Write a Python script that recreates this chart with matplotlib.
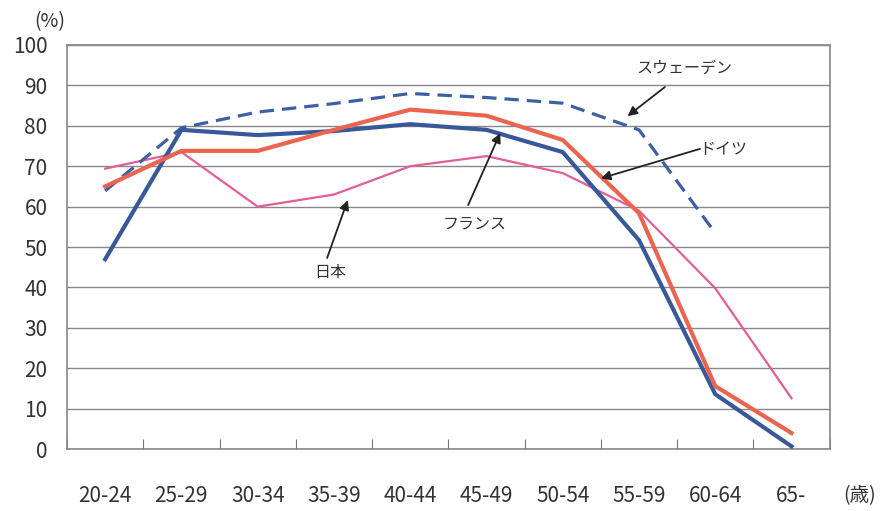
import matplotlib
matplotlib.use("Agg")
import matplotlib.pyplot as plt
import numpy as np

plt.rcParams['font.family'] = ['Noto Sans CJK JP', 'DejaVu Sans']
NUMFONT = ['Liberation Sans Narrow', 'Noto Sans CJK JP', 'DejaVu Sans']

categories = ["20-24", "25-29", "30-34", "35-39", "40-44", "45-49", "50-54", "55-59", "60-64", "65-"]
france = [47, 79, 77.7, 78.7, 80.4, 79, 73.5, 51.7, 13.6, 0.7]
germany = [65, 73.8, 73.8, 79, 84, 82.5, 76.5, 58.4, 15.6, 4]
sweden = [63.9, 79.5, 83.4, 85.5, 88, 87, 85.6, 79, 53.5]
japan = [69.4, 73.5, 60, 63, 70, 72.5, 68.3, 59, 39.8, 12.6]
yticks = [0, 10, 20, 30, 40, 50, 60, 70, 80, 90, 100]

fig = plt.figure(figsize=(8.94, 5.11), dpi=100)
ax = fig.add_axes([0.075, 0.121, 0.853, 0.791])

x = np.arange(len(categories))
ax.plot(x, japan, color='#e35d98', lw=1.6, zorder=3)
ax.plot(np.arange(len(sweden)), sweden, color='#3c5fa6', lw=2.3, ls=(0, (4.5, 2.5)), zorder=4)
ax.plot(x, france, color='#38589a', lw=3.0, zorder=5)
ax.plot(x, germany, color='#ea6450', lw=3.0, zorder=6)

ax.set_xlim(-0.5, len(categories) - 0.5)
ax.set_ylim(0, 100)
ax.set_yticks(yticks)
ax.set_yticklabels([str(v) for v in yticks], fontsize=15, color='#333333', family=NUMFONT)
ax.set_xticks(x)
ax.set_xticklabels(categories, fontsize=15, color='#333333', family=NUMFONT)
ax.tick_params(axis='x', length=0, pad=26)
ax.tick_params(axis='y', length=0, pad=14)
ax.set_xticks(np.arange(-0.5, len(categories) + 0.5, 1), minor=True)
ax.tick_params(axis='x', which='minor', direction='in', length=7, color='#777777', width=0.8)
ax.grid(axis='y', color='#888888', lw=1.0, zorder=1)
for s in ax.spines.values():
    s.set_color('#888888')
    s.set_linewidth(1.2)

fig.text(0.056, 0.957, "(%)", fontsize=14, ha='center', va='center', color='#333333')
fig.text(0.962, 0.03, "(歳)", fontsize=14, ha='center', va='center', color='#333333')

arrowprops = dict(arrowstyle='-|>', color='#222222', lw=1.3, mutation_scale=14, shrinkA=0, shrinkB=0)
ax.text(7.6, 94.3, "スウェーデン", fontsize=11.5, ha='center', va='center', color='#333333')
ax.annotate("", xy=(6.85, 82.4), xytext=(7.34, 89.6), arrowprops=arrowprops, zorder=7)
ax.text(8.1, 74.2, "ドイツ", fontsize=11.5, ha='center', va='center', color='#333333')
ax.annotate("", xy=(6.5, 67.0), xytext=(7.8, 74.3), arrowprops=arrowprops, zorder=7)
ax.text(4.85, 55.7, "フランス", fontsize=11.5, ha='center', va='center', color='#333333')
ax.annotate("", xy=(5.18, 78.2), xytext=(4.76, 60.4), arrowprops=arrowprops, zorder=7)
ax.text(2.95, 43.6, "日本", fontsize=11.5, ha='center', va='center', color='#333333')
ax.annotate("", xy=(3.18, 61.6), xytext=(2.91, 47.3), arrowprops=arrowprops, zorder=7)

fig.savefig("out.png", dpi=100)
